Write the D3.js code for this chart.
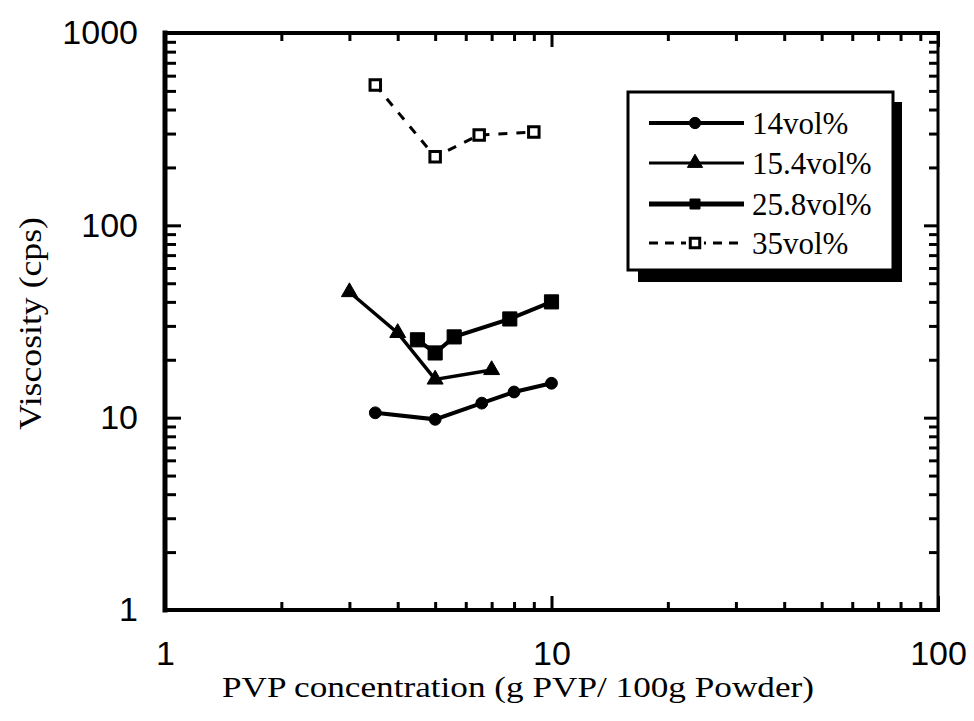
<!DOCTYPE html>
<html>
<head>
<meta charset="utf-8">
<script src="https://cdn.jsdelivr.net/npm/d3@7"></script>
<style>
  html, body { margin: 0; padding: 0; background: #fff; }
  svg { display: block; }
</style>
</head>
<body>
<svg id="chart" width="974" height="721"></svg>
<script>
// PVP concentration (g PVP / 100 g powder) vs. viscosity (cps)
const x14 = [3.5, 5, 6.6, 8, 10];
const y14 = [10.6, 9.8, 11.9, 13.6, 15.1];
const x154 = [3, 4, 5, 7];
const y154 = [45, 27.6, 15.8, 17.7];
const x258 = [4.5, 5, 5.6, 7.8, 10];
const y258 = [25.4, 21.7, 26.3, 32.6, 40];
const x35 = [3.5, 5, 6.5, 9];
const y35 = [537, 227, 295, 306];

const seriesNames = ["14vol%", "15.4vol%", "25.8vol%", "35vol%"];
const xTicks = [1, 10, 100];
const yTicks = [1, 10, 100, 1000];
const xTitle = "PVP concentration (g PVP/ 100g Powder)";
const yTitle = "Viscosity (cps)";

const svg = d3.select("#chart");
svg.append("rect").attr("width", 974).attr("height", 721).attr("fill", "#fff");

const L = 165, R = 938, T = 33, B = 610;
const x = d3.scaleLog().domain([1, 100]).range([L, R]);
const y = d3.scaleLog().domain([1, 1000]).range([B, T]);

const minorX = [];
for (let d = 1; d < 100; d *= 10) for (let k = 2; k <= 9; k++) minorX.push(d * k);
const minorY = [];
for (let d = 1; d < 1000; d *= 10) for (let k = 2; k <= 9; k++) minorY.push(d * k);

const sans = "'Liberation Sans', Arial, sans-serif";
const serif = "'Liberation Serif', 'Times New Roman', serif";

function styleAxis(g, w) {
  g.select(".domain").remove();
  g.selectAll(".tick line").attr("stroke", "#000").attr("stroke-width", w);
}

// bottom axis with labels
const gx = svg.append("g").attr("transform", `translate(0,${B})`)
  .call(d3.axisBottom(x).tickValues(xTicks).tickSize(-14).tickPadding(31).tickFormat(d3.format("d")));
styleAxis(gx, 3);
gx.selectAll(".tick text").attr("font-family", sans).attr("font-size", 34).attr("fill", "#000");
svg.append("g").attr("transform", `translate(0,${B})`)
  .call(d3.axisBottom(x).tickValues(minorX).tickSize(-8).tickFormat(""))
  .call(g => styleAxis(g, 3));

// top axis
svg.append("g").attr("transform", `translate(0,${T})`)
  .call(d3.axisTop(x).tickValues(xTicks).tickSize(-14).tickFormat(""))
  .call(g => styleAxis(g, 3));
svg.append("g").attr("transform", `translate(0,${T})`)
  .call(d3.axisTop(x).tickValues(minorX).tickSize(-8).tickFormat(""))
  .call(g => styleAxis(g, 3));

// left axis with labels
const gy = svg.append("g").attr("transform", `translate(${L},0)`)
  .call(d3.axisLeft(y).tickValues(yTicks).tickSize(-16).tickPadding(27).tickFormat(d3.format("d")));
styleAxis(gy, 3);
gy.selectAll(".tick text").attr("font-family", sans).attr("font-size", 34).attr("fill", "#000");
svg.append("g").attr("transform", `translate(${L},0)`)
  .call(d3.axisLeft(y).tickValues(minorY).tickSize(-11).tickFormat(""))
  .call(g => styleAxis(g, 3));

// right axis
svg.append("g").attr("transform", `translate(${R},0)`)
  .call(d3.axisRight(y).tickValues(yTicks).tickSize(-14).tickFormat(""))
  .call(g => styleAxis(g, 3));
svg.append("g").attr("transform", `translate(${R},0)`)
  .call(d3.axisRight(y).tickValues(minorY).tickSize(-9).tickFormat(""))
  .call(g => styleAxis(g, 3));

// frame
const frame = svg.append("g").attr("stroke", "#000").attr("stroke-linecap", "square");
frame.append("line").attr("x1", L).attr("x2", L).attr("y1", T).attr("y2", B).attr("stroke-width", 5);
frame.append("line").attr("x1", L).attr("x2", R).attr("y1", T).attr("y2", T).attr("stroke-width", 4);
frame.append("line").attr("x1", L).attr("x2", R).attr("y1", B).attr("y2", B).attr("stroke-width", 4);
frame.append("line").attr("x1", R).attr("x2", R).attr("y1", T).attr("y2", B).attr("stroke-width", 3);

// axis titles
svg.append("text").attr("x", 222).attr("y", 697)
  .attr("font-family", serif).attr("font-size", 30)
  .attr("textLength", 592).attr("lengthAdjust", "spacingAndGlyphs")
  .text(xTitle);
svg.append("text").attr("transform", "translate(41,430) rotate(-90)")
  .attr("font-family", serif).attr("font-size", 32)
  .attr("textLength", 213).attr("lengthAdjust", "spacingAndGlyphs")
  .text(yTitle);

// series
const line = d3.line().x(d => x(d[0])).y(d => y(d[1]));
const zip = (xs, ys) => xs.map((v, i) => [v, ys[i]]);

const series = [
  { name: seriesNames[0], pts: zip(x14, y14), sym: d3.symbolCircle, size: 110, width: 4, dash: null, fill: "#000", legW: 4 },
  { name: seriesNames[1], pts: zip(x154, y154), sym: d3.symbolTriangle, size: 110, width: 3.5, dash: null, fill: "#000", legW: 3 },
  { name: seriesNames[2], pts: zip(x258, y258), sym: d3.symbolSquare, size: 200, width: 4, dash: null, fill: "#000", legW: 5 },
  { name: seriesNames[3], pts: zip(x35, y35), sym: d3.symbolSquare, size: 110, width: 3, dash: "9,9", fill: "#fff", legW: 3 }
];

series.forEach(s => {
  svg.append("path").attr("d", line(s.pts)).attr("fill", "none")
    .attr("stroke", "#000").attr("stroke-width", s.width)
    .attr("stroke-dasharray", s.dash);
  svg.append("g").selectAll("path").data(s.pts).join("path")
    .attr("transform", d => `translate(${x(d[0])},${y(d[1])})`)
    .attr("d", d3.symbol().type(s.sym).size(s.size))
    .attr("fill", s.fill).attr("stroke", "#000").attr("stroke-width", s.fill === "#fff" ? 3 : 1);
});

// legend box with drop shadow
const lg = svg.append("g");
lg.append("rect").attr("x", 638).attr("y", 102).attr("width", 264).attr("height", 180).attr("fill", "#000");
lg.append("rect").attr("x", 628).attr("y", 92).attr("width", 265).attr("height", 178)
  .attr("fill", "#fff").attr("stroke", "#000").attr("stroke-width", 3);

const rowY = [123, 163, 204, 243];
series.forEach((s, i) => {
  const yy = rowY[i];
  lg.append("line").attr("x1", 649).attr("x2", 744).attr("y1", yy).attr("y2", yy)
    .attr("stroke", "#000").attr("stroke-width", s.legW)
    .attr("stroke-dasharray", s.dash ? "9,7" : null);
  if (s.dash) {
    lg.append("rect").attr("x", 686).attr("y", yy - 8).attr("width", 18).attr("height", 16).attr("fill", "#fff");
  }
  lg.append("path").attr("transform", `translate(695,${yy})`)
    .attr("d", d3.symbol().type(s.sym).size(s.dash ? 90 : 100))
    .attr("fill", s.fill).attr("stroke", "#000").attr("stroke-width", s.fill === "#fff" ? 3 : 1);
  lg.append("text").attr("x", 752).attr("y", yy + 11)
    .attr("font-family", serif).attr("font-size", 31).attr("fill", "#000")
    .text(s.name);
});
</script>
</body>
</html>
